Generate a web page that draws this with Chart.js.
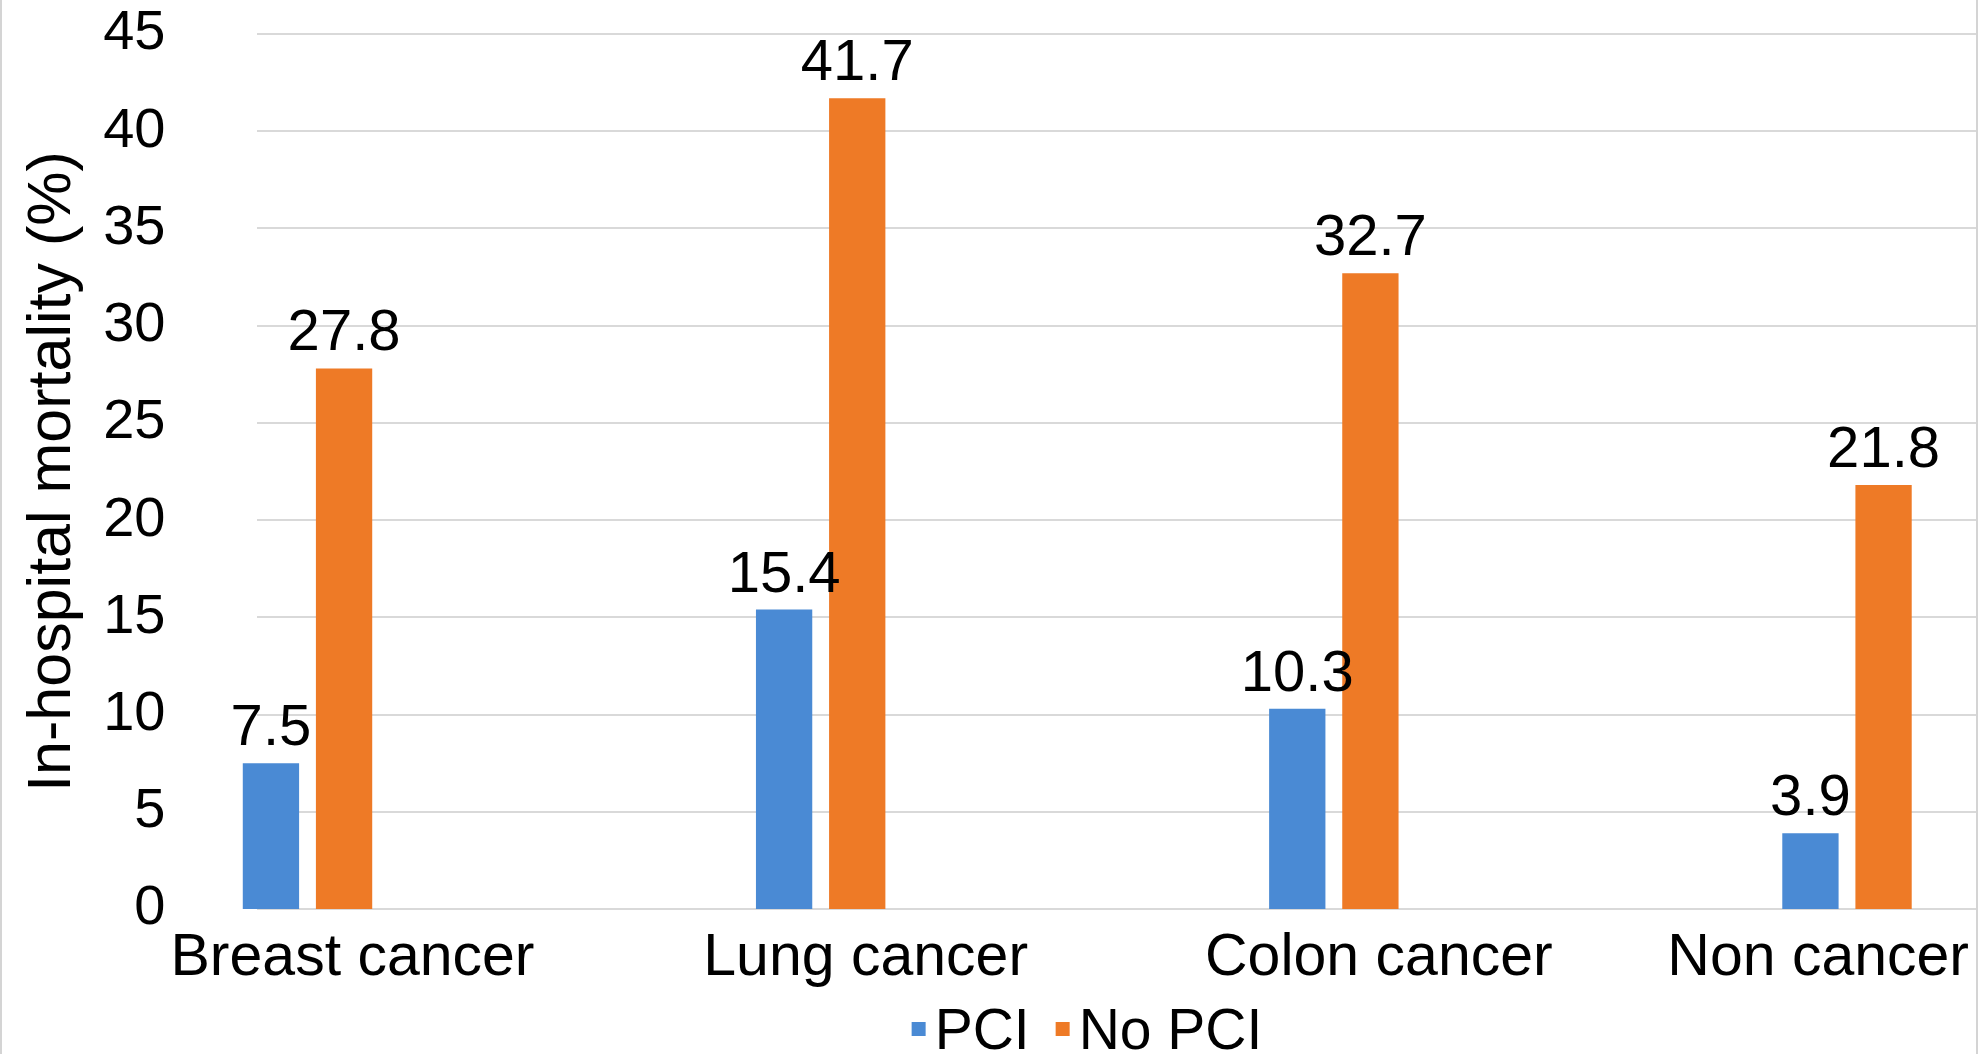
<!DOCTYPE html>
<html>
<head>
<meta charset="utf-8">
<title>In-hospital mortality by cancer type and PCI</title>
<script src="https://cdn.jsdelivr.net/npm/chart.js@4/dist/chart.umd.min.js"></script>
<style>
  html, body { margin: 0; padding: 0; background: #ffffff; overflow: hidden; }
  #wrap { width: 1985px; height: 1054px; position: relative; }
  canvas { display: block; }
</style>
</head>
<body>
<div id="wrap"><canvas id="chart" width="1985" height="1054"></canvas></div>
<script>
// ---- data ----
const categories = ['Breast cancer', 'Lung cancer', 'Colon cancer', 'Non cancer'];
const seriesNames = ['PCI', 'No PCI'];
const pciValues = [7.5, 15.4, 10.3, 3.9];
const noPciValues = [27.8, 41.7, 32.7, 21.8];
const yAxisTitle = 'In-hospital mortality (%)';
const yMin = 0;
const yMax = 45;
const yStep = 5;

// ---- styles ----
const FONT = '"Liberation Sans", Arial, Helvetica, sans-serif';
const BLUE = '#4a8ad4';
const ORANGE = '#ee7a26';
const GRID = '#d9d9d9';
const FRAME = '#d4d4d4';

// white page with thin side rules
const backdrop = {
  id: 'backdrop',
  beforeDraw(chart) {
    const {ctx, width, height} = chart;
    ctx.save();
    ctx.fillStyle = '#ffffff';
    ctx.fillRect(0, 0, width, height);
    ctx.strokeStyle = FRAME;
    ctx.lineWidth = 2;
    ctx.beginPath();
    ctx.moveTo(1, 0); ctx.lineTo(1, height);
    ctx.moveTo(1977, 0); ctx.lineTo(1977, height);
    ctx.stroke();
    ctx.restore();
  }
};

// horizontal gridlines that run a little wider than the bar area
const wideGrid = {
  id: 'wideGrid',
  beforeDatasetsDraw(chart) {
    const y = chart.scales.y;
    const {ctx} = chart;
    ctx.save();
    ctx.strokeStyle = GRID;
    ctx.lineWidth = 2;
    ctx.beginPath();
    for (const t of y.ticks) {
      const py = Math.round(y.getPixelForValue(t.value));
      ctx.moveTo(257, py);
      ctx.lineTo(1976, py);
    }
    ctx.stroke();
    ctx.restore();
  }
};

// value labels above each bar
const valueLabels = {
  id: 'valueLabels',
  afterDatasetsDraw(chart) {
    const {ctx} = chart;
    ctx.save();
    ctx.font = '58px ' + FONT;
    ctx.fillStyle = '#000000';
    ctx.textAlign = 'center';
    ctx.textBaseline = 'alphabetic';
    chart.data.datasets.forEach((ds, di) => {
      const meta = chart.getDatasetMeta(di);
      meta.data.forEach((bar, i) => {
        ctx.fillText(String(ds.data[i]), bar.x, bar.y - 18);
      });
    });
    ctx.restore();
  }
};

// keep the category labels inside the canvas (last label is pulled left)
const keepLabelsInside = {
  id: 'keepLabelsInside',
  beforeDraw(chart) {
    const sc = chart.scales.x;
    if (!sc || typeof sc.getLabelItems !== 'function') return;
    const {ctx} = chart;
    const limit = 1969;
    for (const item of sc.getLabelItems()) {
      if (!item || !item.options || !item.options.translation) continue;
      ctx.save();
      ctx.font = (item.font && item.font.string) || ('59px ' + FONT);
      const w = ctx.measureText(String(item.label)).width;
      ctx.restore();
      const t = item.options.translation;
      if (t[0] + w / 2 > limit) t[0] = limit - w / 2;
    }
  }
};

// compact legend: small square right next to its text
const compactLegend = {
  id: 'compactLegend',
  afterDraw(chart) {
    const {ctx} = chart;
    const box = 14, gapText = 9, gapItem = 26;
    const centerX = 1087, baseline = 1049, boxMid = 1029;
    ctx.save();
    ctx.font = '57px ' + FONT;
    const items = chart.data.datasets.map(ds => ({
      text: ds.label, color: ds.backgroundColor, w: ctx.measureText(ds.label).width
    }));
    let total = 0;
    items.forEach((it, i) => { total += box + gapText + it.w + (i ? gapItem : 0); });
    let x = centerX - total / 2;
    items.forEach((it, i) => {
      if (i) x += gapItem;
      ctx.fillStyle = it.color;
      ctx.fillRect(x, boxMid - box / 2, box, box);
      x += box + gapText;
      ctx.fillStyle = '#000000';
      ctx.textAlign = 'left';
      ctx.textBaseline = 'alphabetic';
      ctx.fillText(it.text, x, baseline);
      x += it.w;
    });
    ctx.restore();
  }
};

new Chart(document.getElementById('chart'), {
  type: 'bar',
  data: {
    labels: categories,
    datasets: [
      { label: seriesNames[0], data: pciValues, backgroundColor: BLUE, borderWidth: 0, clip: false },
      { label: seriesNames[1], data: noPciValues, backgroundColor: ORANGE, borderWidth: 0, clip: false }
    ]
  },
  options: {
    responsive: false,
    devicePixelRatio: 1,
    animation: false,
    layout: { padding: { left: 0, right: 138, top: 34, bottom: 0 } },
    datasets: {
      bar: { categoryPercentage: 0.285, barPercentage: 0.77 }
    },
    plugins: {
      legend: { display: false },
      tooltip: { enabled: false },
      title: { display: false }
    },
    scales: {
      x: {
        type: 'category',
        offset: false,
        grid: { display: false, drawTicks: false },
        border: { display: false },
        ticks: {
          color: '#000000',
          font: { family: FONT, size: 59 },
          padding: 14,
          labelOffset: 45,
          maxRotation: 0,
          minRotation: 0,
          autoSkip: false
        },
        afterFit(scale) {
          scale.height = 145;
          scale.paddingLeft = 0;
          scale.paddingRight = 0;
        }
      },
      y: {
        min: yMin,
        max: yMax,
        grid: { display: false, drawTicks: false },
        border: { display: false },
        ticks: {
          stepSize: yStep,
          color: '#000000',
          font: { family: FONT, size: 56 },
          padding: 142
        },
        title: {
          display: true,
          text: yAxisTitle,
          color: '#000000',
          font: { family: FONT, size: 61 },
          padding: { top: 17, bottom: 0 }
        },
        afterFit(scale) {
          scale.width = 307.5;
          scale.paddingTop = 0;
          scale.paddingBottom = 0;
        }
      }
    }
  },
  plugins: [backdrop, wideGrid, valueLabels, keepLabelsInside, compactLegend]
});
</script>
</body>
</html>
